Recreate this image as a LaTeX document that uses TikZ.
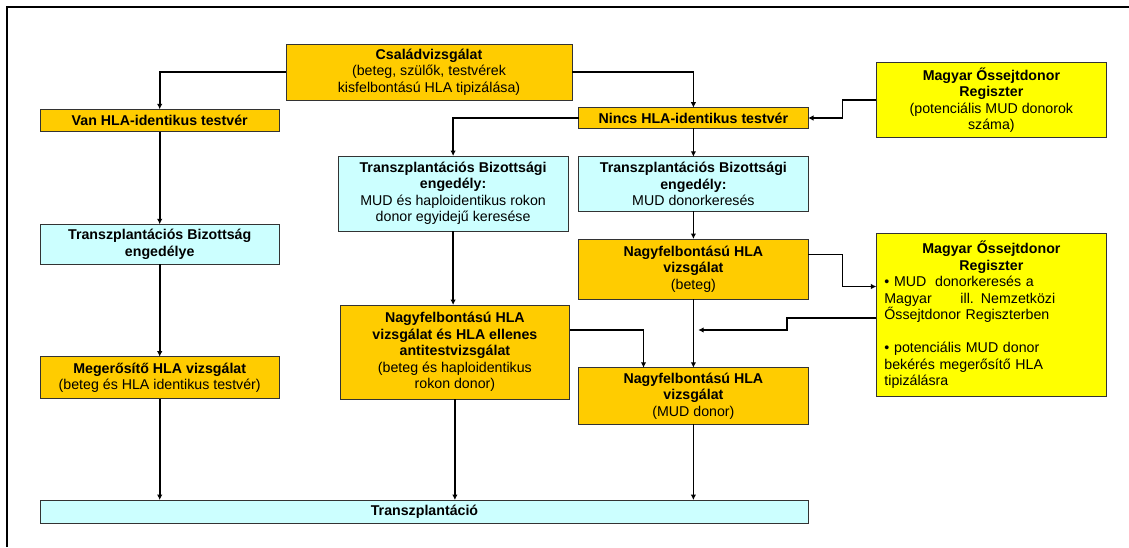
\documentclass[tikz,border=0pt]{standalone}
\usepackage{fontspec}
\setmainfont{Liberation Sans}
\usepackage{xcolor}
\usepackage{tikz}
\usetikzlibrary{arrows.meta}
\definecolor{hlaorange}{HTML}{FFCC00}
\definecolor{hlacyan}{HTML}{CCFFFF}
\definecolor{regyellow}{HTML}{FFFF00}

\begin{document}
\begin{tikzpicture}[x=1pt,y=-1pt,font=\fontsize{14.2}{16.5}\selectfont,
  box/.style={draw=black!80,line width=1pt,inner sep=2pt,outer sep=0pt,align=center},
  orangebox/.style={box,fill=hlaorange},
  cyanbox/.style={box,fill=hlacyan},
  regbox/.style={box,fill=regyellow},
  link/.style={line width=1.6pt,-{Latex[length=5.5pt,width=5.5pt]}}]
\useasboundingbox (0,0) rectangle (1129,547);
\draw[line width=2pt] (7,547) -- (7,7) -- (1129,7);

% left column
\node[orangebox,minimum width=286pt,minimum height=55.7pt] (csal) at (429,72.2) {%
  \textbf{Családvizsgálat}\\(beteg, szülők, testvérek\\kisfelbontású HLA tipizálása)};
\node[orangebox,minimum width=239.3pt,minimum height=22.2pt] (van) at (159.7,120.4)
  {\textbf{Van HLA-identikus testvér}};
\node[cyanbox,minimum width=239.3pt,minimum height=40pt] (tbe) at (159.7,244.3)
  {\textbf{Transzplantációs Bizottság}\\\textbf{engedélye}};
\node[orangebox,minimum width=239.3pt,minimum height=42.3pt] (meg) at (159.7,377.8)
  {\textbf{Megerősítő HLA vizsgálat}\\(beteg és HLA identikus testvér)};
\node[cyanbox,minimum width=768.9pt,minimum height=23.3pt] (transz) at (424.5,511.7)
  {\textbf{Transzplantáció}};

% middle and right columns
\node[orangebox,minimum width=229.2pt,minimum height=20.6pt] (nincs) at (693.4,118)
  {\textbf{Nincs HLA-identikus testvér}};
\node[regbox,minimum width=230pt,minimum height=74.6pt] (reg1) at (991.4,100) {%
  \textbf{Magyar Őssejtdonor}\\\textbf{Regiszter}\\(potenciális MUD donorok\\száma)};
\node[cyanbox,minimum width=229.8pt,minimum height=75pt] (tbmid) at (453.1,193.5) {%
  \textbf{Transzplantációs Bizottsági}\\\textbf{engedély:}\\MUD és haploidentikus rokon\\donor egyidejű keresése};
\node[cyanbox,minimum width=229.2pt,minimum height=54.3pt] (tbmud) at (693.4,183.9) {%
  \textbf{Transzplantációs Bizottsági}\\\textbf{engedély:}\\MUD donorkeresés};
\node[orangebox,minimum width=229.2pt,minimum height=60pt] (beteg) at (693.4,269) {%
  \textbf{Nagyfelbontású HLA}\\\textbf{vizsgálat}\\(beteg)};
\node[regbox,minimum width=230pt,minimum height=155pt,text width=214pt,inner sep=8pt,
      align=left] (reg2) at (991.4,314.8) {%
  {\centering\bfseries Magyar Őssejtdonor\\Regiszter\par}
  • MUD\hspace{4pt} donorkeresés a\\
  Magyar\hspace{24pt} ill. Nemzetközi\\
  Őssejtdonor Regiszterben\\[16.5pt]
  • potenciális MUD donor\\
  bekérés megerősítő HLA\\
  tipizálásra};
\node[orangebox,minimum width=229.8pt,minimum height=94pt] (antitest) at (454.9,352) {%
  \textbf{Nagyfelbontású HLA}\\\textbf{vizsgálat és HLA ellenes}\\\textbf{antitestvizsgálat}\\%
  (beteg és haploidentikus\\rokon donor)};
\node[orangebox,minimum width=229.2pt,minimum height=56.3pt] (muddon) at (693.4,395.9) {%
  \textbf{Nagyfelbontású HLA}\\\textbf{vizsgálat}\\(MUD donor)};

\coordinate (bend) at ([yshift=22pt]antitest.east);

% connectors
\draw[link] (csal.west) -| (van.north);
\draw[link] (csal.east) -| (nincs.north);
\draw[link] (reg1.west) -- ++(-34,0) |- (nincs.east);
\draw[link] (nincs.west) -| (tbmid.north);
\draw[link] (nincs.south) -- (tbmud.north);
\draw[link] (van.south) -- (tbe.north);
\draw[link] (tbe.south) -- (meg.north);
\draw[link] (meg.south) -- (meg.south |- transz.north);
\draw[link] (tbmid.south) -- (tbmid.south |- antitest.north);
\draw[link] (antitest.south) -- (antitest.south |- transz.north);
\draw[link] (tbmud.south) -- (beteg.north);
\draw[link] (beteg.south) -- (muddon.north);
\draw[link] (muddon.south) -- (muddon.south |- transz.north);
\draw[link] ([yshift=14.7pt]beteg.east) -- ++(34.6,0) |- ([yshift=28.3pt]reg2.west);
\draw[link] (bend) -| ([xshift=-49.9pt]muddon.north);
\draw[link] ([yshift=-3pt]reg2.west) -- ++(-89.6,0) |- ([xshift=4.8pt]beteg.south |- bend);
\end{tikzpicture}
\end{document}
